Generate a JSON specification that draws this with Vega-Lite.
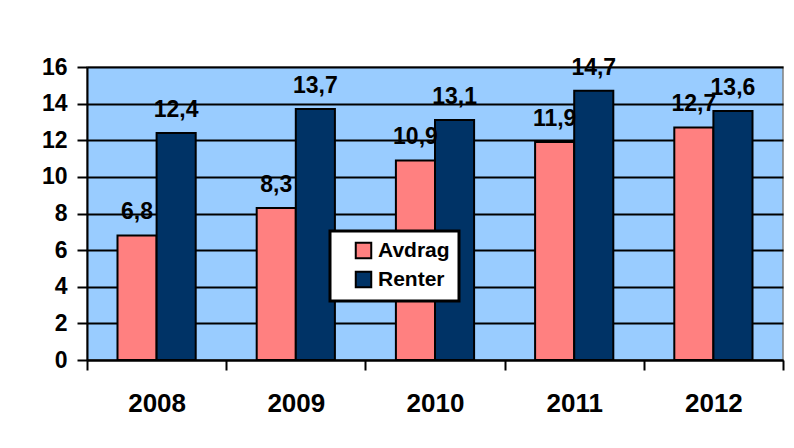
{
  "$schema": "https://vega.github.io/schema/vega-lite/v6.json",
  "width": 696,
  "height": 293,
  "autosize": {"type": "none"},
  "padding": {"left": 87, "top": 67, "right": 11, "bottom": 88},
  "background": "white",
  "config": {
    "locale": {"number": {"decimal": ",", "thousands": " ", "grouping": [3], "currency": ["", " kr"]}},
    "view": {"fill": "#99CCFF", "stroke": "#808080", "strokeWidth": 1.5},
    "font": "Liberation Sans"
  },
  "data": {
    "values": [
      {"year": "2008", "series": "Avdrag", "value": 6.8},
      {"year": "2008", "series": "Renter", "value": 12.4},
      {"year": "2009", "series": "Avdrag", "value": 8.3},
      {"year": "2009", "series": "Renter", "value": 13.7},
      {"year": "2010", "series": "Avdrag", "value": 10.9},
      {"year": "2010", "series": "Renter", "value": 13.1},
      {"year": "2011", "series": "Avdrag", "value": 11.9},
      {"year": "2011", "series": "Renter", "value": 14.7},
      {"year": "2012", "series": "Avdrag", "value": 12.7},
      {"year": "2012", "series": "Renter", "value": 13.6}
    ]
  },
  "encoding": {
    "x": {
      "field": "year", "type": "nominal",
      "scale": {"paddingInner": 0, "paddingOuter": 0},
      "axis": {
        "title": null, "labelAngle": 0,
        "labelFont": "Liberation Sans", "labelFontWeight": "bold", "labelFontSize": 26, "labelColor": "black",
        "labelPadding": 20, "tickBand": "extent", "tickSize": 10, "tickWidth": 2, "tickColor": "black",
        "domainColor": "black", "domainWidth": 2, "grid": false
      }
    },
    "xOffset": {"field": "series", "type": "nominal", "sort": ["Avdrag", "Renter"], "scale": {"paddingInner": 0, "paddingOuter": 0.78}},
    "y": {
      "field": "value", "type": "quantitative",
      "scale": {"domain": [0, 16], "nice": false},
      "axis": {
        "title": null, "values": [0, 2, 4, 6, 8, 10, 12, 14, 16],
        "labelFont": "Liberation Sans", "labelFontWeight": "bold", "labelFontSize": 23, "labelColor": "black",
        "labelPadding": 10, "tickSize": 10, "tickWidth": 2, "tickColor": "black",
        "domainColor": "black", "domainWidth": 2,
        "grid": true, "gridColor": "black", "gridWidth": 2, "gridOpacity": 1
      }
    }
  },
  "layer": [
    {
      "mark": {"type": "bar", "stroke": "black", "strokeWidth": 2},
      "encoding": {
        "color": {
          "field": "series", "type": "nominal",
          "scale": {"domain": ["Avdrag", "Renter"], "range": ["#FF8080", "#003366"]},
          "legend": {
            "title": null, "orient": "none", "legendX": 243, "legendY": 164,
            "fillColor": "white", "strokeColor": "black", "padding": 9,
            "symbolType": "square", "symbolSize": 240, "symbolStrokeColor": "black", "symbolStrokeWidth": 2,
            "symbolOffset": 14,
            "labelFont": "Liberation Sans", "labelFontWeight": "bold", "labelFontSize": 21, "labelColor": "black",
            "rowPadding": 4, "labelOffset": 4,
            "encode": {"legend": {"update": {"strokeWidth": {"value": 3}}}}
          }
        }
      }
    },
    {
      "mark": {"type": "text", "dy": -23, "baseline": "middle", "align": "center", "font": "Liberation Sans", "fontWeight": "bold", "fontSize": 23, "color": "black"},
      "encoding": {
        "text": {"field": "value", "type": "quantitative", "format": ".1f"}
      }
    }
  ]
}
